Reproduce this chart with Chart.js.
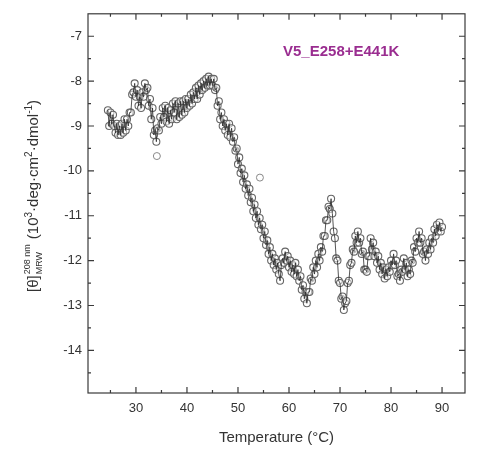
<!DOCTYPE html>
<html lang="en">
<head>
    <meta charset="UTF-8">
    <title>V5_E258+E441K</title>
    <script src="https://cdn.jsdelivr.net/npm/chart.js@4.4.1/dist/chart.umd.min.js"></script>
    <style>
        html, body {margin: 0; padding: 0; background: #fff; overflow: hidden;}
        #wrap {position: relative; width: 477px; height: 453px;}
    </style>
</head>
<body>
<div id="wrap"><canvas id="cd"></canvas></div>
<script>
    // temperature sampling (°C): first reading and spacing of readings
    const tStart = 24.5;
    const tStep = 0.25;

    // [θ] MRW at 208 nm, 10^3 deg cm2 dmol-1, one row per degree
    const theta = [
        -8.65, -9.0,
        -8.7, -8.95, -8.75, -9.0,      // 25
        -9.15, -8.95, -9.2, -9.0,      // 26
        -9.2, -8.95, -9.15, -8.85,     // 27
        -9.1, -8.85, -9.0, -8.7,       // 28
        -8.7, -8.3, -8.25, -8.05,      // 29
        -8.35, -8.2, -8.55, -8.35,     // 30
        -8.6, -8.25, -8.35, -8.05,     // 31
        -8.2, -8.15, -8.55, -8.4,      // 32
        -8.85, -8.6, -9.2, -9.1,       // 33
        -9.35, -9.05, -9.1, -8.8,      // 34
        -8.95, -8.6, -8.8, -8.55,      // 35
        -8.9, -8.6, -8.95, -8.65,      // 36
        -8.85, -8.5, -8.7, -8.45,      // 37
        -8.85, -8.5, -8.8, -8.45,      // 38
        -8.75, -8.45, -8.7, -8.4,      // 39
        -8.6, -8.4, -8.55, -8.3,       // 40
        -8.5, -8.25, -8.4, -8.15,      // 41
        -8.4, -8.1, -8.3, -8.05,       // 42
        -8.2, -8.0, -8.15, -7.95,      // 43
        -8.1, -7.9, -8.1, -7.95,       // 44
        -8.1, -7.95, -8.2, -8.15,      // 45
        -8.55, -8.45, -8.85, -8.7,     // 46
        -9.0, -8.85, -9.1, -8.95,      // 47
        -9.2, -8.95, -9.25, -9.05,     // 48
        -9.35, -9.25, -9.55, -9.5,     // 49
        -9.85, -9.7, -10.05, -9.95,    // 50
        -10.25, -10.1, -10.4, -10.3,   // 51
        -10.55, -10.4, -10.7, -10.6,   // 52
        -10.9, -10.75, -11.05, -10.9,  // 53
        -11.2, -11.05, -11.3, -11.2,   // 54
        -11.5, -11.35, -11.65, -11.55, // 55
        -11.85, -11.7, -12.0, -11.85,  // 56
        -12.1, -11.95, -12.2, -12.05,  // 57
        -12.3, -12.45, -12.1, -11.95,  // 58
        -12.05, -11.8, -12.0, -11.9,   // 59
        -12.15, -12.0, -12.25, -12.1,  // 60
        -12.3, -12.05, -12.35, -12.2,  // 61
        -12.45, -12.35, -12.65, -12.55,// 62
        -12.85, -12.7, -12.95, -12.7,  // 63
        -12.7, -12.4, -12.45, -12.15,  // 64
        -12.3, -12.0, -12.15, -11.85,  // 65
        -12.0, -11.7, -11.8, -11.45,   // 66
        -11.45, -11.1, -11.1, -10.8,   // 67
        -10.85, -10.62, -10.95, -11.35,// 68
        -11.5, -11.95, -12.0, -12.45,  // 69
        -12.5, -12.85, -12.8, -13.1,   // 70
        -12.95, -12.9, -12.5, -12.45,  // 71
        -12.1, -12.05, -11.75, -11.8,  // 72
        -11.45, -11.6, -11.35, -11.6,  // 73
        -11.5, -11.85, -11.8, -12.2,   // 74
        -12.2, -12.25, -11.9, -11.9,   // 75
        -11.5, -11.75, -11.6, -11.9,   // 76
        -11.8, -12.05, -11.9, -12.2,   // 77
        -12.05, -12.3, -12.15, -12.4,  // 78
        -12.2, -12.35, -12.15, -12.25, // 79
        -12.0, -12.1, -11.85, -12.1,   // 80
        -12.0, -12.35, -12.3, -12.45,  // 81
        -12.2, -12.25, -11.95, -12.2,  // 82
        -12.05, -12.35, -12.2, -12.3,  // 83
        -12.0, -12.05, -11.7, -11.8,   // 84
        -11.5, -11.6, -11.35, -11.6,   // 85
        -11.5, -11.85, -11.8, -12.0,   // 86
        -11.75, -11.85, -11.6, -11.75, // 87
        -11.5, -11.6, -11.3, -11.45,   // 88
        -11.2, -11.35, -11.15, -11.35, // 89
        -11.25                         // 90
    ];

    // stray readings
    const strayT = [34.1, 54.3];
    const strayTheta = [-9.67, -10.15];

    const xTicks = [30, 40, 50, 60, 70, 80, 90];
    const xMinor = [25, 35, 45, 55, 65, 75, 85];
    const yTicks = [-7, -8, -9, -10, -11, -12, -13, -14];
    const yMinor = [-7.5, -8.5, -9.5, -10.5, -11.5, -12.5, -13.5, -14.5];

    const sampleName = 'V5_E258+E441K';
    const font = '"Liberation Sans", Arial, sans-serif';

    const pts = theta.map((v, i) => ({x: tStart + i * tStep, y: v}));
    const stray = strayT.map((t, i) => ({x: t, y: strayTheta[i]}));

    // frame + inward ticks on all four sides
    const framePlugin = {
        id: 'frame',
        afterDraw(chart) {
            const c = chart.ctx, a = chart.chartArea;
            const xs = chart.scales.x, ys = chart.scales.y;
            c.save();
            c.strokeStyle = '#3a3a3a';
            c.lineWidth = 1.2;
            c.strokeRect(a.left, a.top, a.right - a.left, a.bottom - a.top);
            c.beginPath();
            const tx = (list, len) => list.forEach(v => {
                const p = xs.getPixelForValue(v);
                c.moveTo(p, a.bottom); c.lineTo(p, a.bottom - len);
                c.moveTo(p, a.top); c.lineTo(p, a.top + len);
            });
            const ty = (list, len) => list.forEach(v => {
                const p = ys.getPixelForValue(v);
                c.moveTo(a.left, p); c.lineTo(a.left + len, p);
                c.moveTo(a.right, p); c.lineTo(a.right - len, p);
            });
            tx(xTicks, 6); tx(xMinor, 3);
            ty(yTicks, 6); ty(yMinor, 3);
            c.stroke();

            // sample label
            c.fillStyle = '#9a2d90';
            c.font = 'bold 15px ' + font;
            c.textBaseline = 'middle';
            c.textAlign = 'left';
            c.fillText(sampleName, 283, 52);
            c.restore();
        }
    };

    // rotated y title with sub/superscripts
    const yTitlePlugin = {
        id: 'ytitle',
        afterDraw(chart) {
            const c = chart.ctx;
            const big = '15px ' + font, small = '10px ' + font, tiny = '9px ' + font;
            const parts = [
                {t: '[θ]', f: big, dy: 0},
                {stack: true, sup: '208 nm', sub: 'MRW'},
                {t: ' (10', f: big, dy: 0},
                {t: '3', f: small, dy: -6},
                {t: '·deg·cm', f: big, dy: 0},
                {t: '2', f: small, dy: -6},
                {t: '·dmol', f: big, dy: 0},
                {t: '-1', f: small, dy: -6},
                {t: ')', f: big, dy: 0}
            ];
            c.save();
            c.fillStyle = '#333';
            c.textBaseline = 'alphabetic';
            c.textAlign = 'left';
            let total = 0;
            parts.forEach(p => {
                if (p.stack) {
                    c.font = tiny;
                    p.w = Math.max(c.measureText(p.sup).width, c.measureText(p.sub).width) + 2;
                } else {
                    c.font = p.f;
                    p.w = c.measureText(p.t).width;
                }
                total += p.w;
            });
            c.translate(38, 196);
            c.rotate(-Math.PI / 2);
            let x = -total / 2;
            parts.forEach(p => {
                if (p.stack) {
                    c.font = tiny;
                    c.fillText(p.sup, x + 1, -8);
                    c.fillText(p.sub, x + 1, 4);
                } else {
                    c.font = p.f;
                    c.fillText(p.t, x, p.dy);
                }
                x += p.w;
            });
            c.restore();
        }
    };

    const cv = document.getElementById('cd');
    cv.width = 477; cv.height = 453;

    new Chart(cv, {
        type: 'scatter',
        data: {
            datasets: [
                {
                    data: pts,
                    showLine: true,
                    borderColor: '#2a2a2a',
                    borderWidth: 0.8,
                    pointRadius: 0,
                    order: 0
                },
                {
                    data: pts,
                    showLine: false,
                    pointRadius: 3.5,
                    pointBorderWidth: 1.1,
                    pointBorderColor: '#666',
                    pointBackgroundColor: 'rgba(255,255,255,0.5)',
                    order: 1
                },
                {
                    data: stray,
                    showLine: false,
                    pointRadius: 3.5,
                    pointBorderWidth: 1,
                    pointBorderColor: '#888',
                    pointBackgroundColor: 'rgba(255,255,255,0.5)',
                    order: 2
                }
            ]
        },
        options: {
            responsive: false,
            animation: false,
            events: [],
            layout: {padding: {left: 0, right: 12, top: 13, bottom: 0}},
            plugins: {legend: {display: false}, tooltip: {enabled: false}},
            scales: {
                x: {
                    type: 'linear',
                    min: 20.6,
                    max: 94.5,
                    afterBuildTicks: s => { s.ticks = xTicks.map(v => ({value: v})); },
                    afterFit: s => { s.height = 60; },
                    grid: {display: false, drawTicks: false},
                    border: {display: false},
                    ticks: {color: '#333', font: {family: font, size: 13}, padding: 8},
                    title: {
                        display: true,
                        text: 'Temperature (°C)',
                        color: '#333',
                        font: {family: font, size: 15},
                        padding: {top: 0, bottom: 6}
                    }
                },
                y: {
                    type: 'linear',
                    min: -14.95,
                    max: -6.5,
                    afterBuildTicks: s => { s.ticks = yTicks.map(v => ({value: v})); },
                    afterFit: s => { s.width = 88; },
                    grid: {display: false, drawTicks: false},
                    border: {display: false},
                    ticks: {color: '#333', font: {family: font, size: 13}, padding: 6}
                }
            }
        },
        plugins: [framePlugin, yTitlePlugin]
    });
</script>
</body>
</html>
